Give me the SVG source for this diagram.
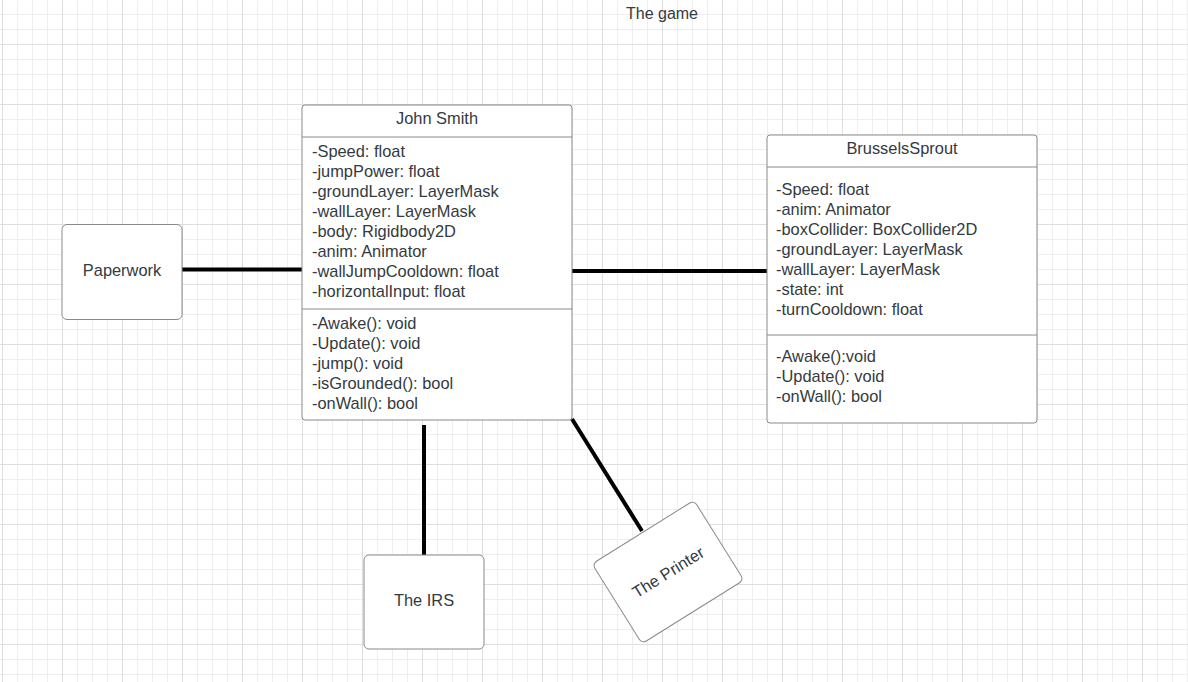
<svg xmlns="http://www.w3.org/2000/svg" width="1188" height="682" viewBox="0 0 1188 682">
<style>
text{font-family:"Liberation Sans",Arial,sans-serif;font-size:16.4px;fill:#333a40}
.c{text-anchor:middle;dominant-baseline:central}
.f{dominant-baseline:central}
.box{fill:#fff;stroke:#8a8a8e;stroke-width:1}
.div{stroke:#8a8a8e;stroke-width:1}
.con{stroke:#000;stroke-width:4;fill:none}
</style>
<defs>
<pattern id="grid" patternUnits="userSpaceOnUse" x="2" y="-16" width="60" height="60">
<rect x="15" y="0" width="1" height="60" fill="#eeeeee"/>
<rect x="30" y="0" width="1" height="60" fill="#eeeeee"/>
<rect x="45" y="0" width="1" height="60" fill="#eeeeee"/>
<rect x="0" y="15" width="60" height="1" fill="#eeeeee"/>
<rect x="0" y="30" width="60" height="1" fill="#eeeeee"/>
<rect x="0" y="45" width="60" height="1" fill="#eeeeee"/>
<rect x="0" y="0" width="1" height="60" fill="#dedede"/>
<rect x="0" y="0" width="60" height="1" fill="#dedede"/>
</pattern>
</defs>
<rect width="1188" height="682" fill="#fff"/>
<rect width="1188" height="682" fill="url(#grid)"/>
<text class="c" x="662" y="13" style="font-size:16px">The game</text>
<g id="connectors">
<line class="con" x1="182" y1="269.5" x2="302" y2="269.5"/>
<line class="con" x1="572" y1="271" x2="767" y2="271"/>
<line class="con" x1="424" y1="425" x2="424" y2="555"/>
<line class="con" x1="572" y1="419" x2="642" y2="531"/>
</g>
<g id="john-smith">
<rect class="box" x="302" y="105" width="270" height="315" rx="3"/>
<line class="div" x1="302" y1="137" x2="572" y2="137"/>
<line class="div" x1="302" y1="309" x2="572" y2="309"/>
<text class="c" x="437" y="118">John Smith</text>
<text class="f" x="312" y="151">-Speed: float</text>
<text class="f" x="312" y="171">-jumpPower: float</text>
<text class="f" x="312" y="191">-groundLayer: LayerMask</text>
<text class="f" x="312" y="211">-wallLayer: LayerMask</text>
<text class="f" x="312" y="231">-body: Rigidbody2D</text>
<text class="f" x="312" y="251">-anim: Animator</text>
<text class="f" x="312" y="271">-wallJumpCooldown: float</text>
<text class="f" x="312" y="291">-horizontalInput: float</text>
<text class="f" x="312" y="323">-Awake(): void</text>
<text class="f" x="312" y="343">-Update(): void</text>
<text class="f" x="312" y="363">-jump(): void</text>
<text class="f" x="312" y="383">-isGrounded(): bool</text>
<text class="f" x="312" y="403">-onWall(): bool</text>
</g>
<g id="brussels-sprout">
<rect class="box" x="767" y="135" width="270" height="288" rx="3"/>
<line class="div" x1="767" y1="167" x2="1037" y2="167"/>
<line class="div" x1="767" y1="335" x2="1037" y2="335"/>
<text class="c" x="902" y="148">BrusselsSprout</text>
<text class="f" x="776" y="188.5">-Speed: float</text>
<text class="f" x="776" y="208.5">-anim: Animator</text>
<text class="f" x="776" y="228.5">-boxCollider: BoxCollider2D</text>
<text class="f" x="776" y="248.5">-groundLayer: LayerMask</text>
<text class="f" x="776" y="268.5">-wallLayer: LayerMask</text>
<text class="f" x="776" y="288.5">-state: int</text>
<text class="f" x="776" y="308.5">-turnCooldown: float</text>
<text class="f" x="776" y="356">-Awake():void</text>
<text class="f" x="776" y="376">-Update(): void</text>
<text class="f" x="776" y="396">-onWall(): bool</text>
</g>
<g id="paperwork">
<rect class="box" x="62" y="224.5" width="120" height="95" rx="5"/>
<text class="c" x="122" y="269.5">Paperwork</text>
</g>
<g id="the-irs">
<rect class="box" x="364" y="555" width="120" height="94" rx="5"/>
<text class="c" x="424" y="599.5">The IRS</text>
</g>
<g id="the-printer" transform="translate(668 572) rotate(-32)">
<rect class="box" x="-60" y="-47" width="120" height="94" rx="5"/>
<text class="c" x="0" y="0">The Printer</text>
</g>
</svg>
